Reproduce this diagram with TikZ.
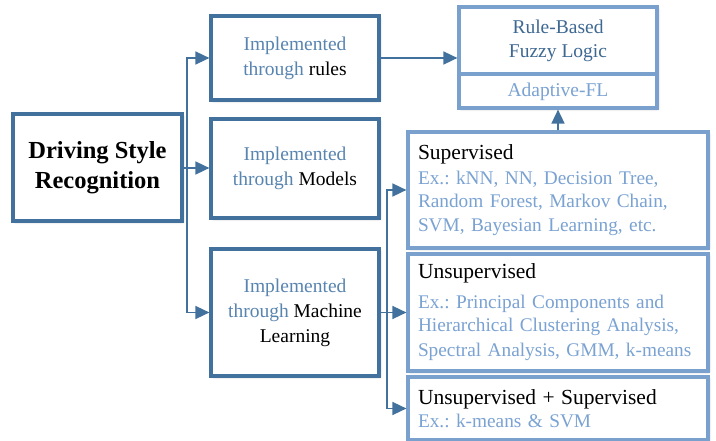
\documentclass[tikz,border=0pt]{standalone}
\usepackage{fontspec}
\setmainfont{Liberation Serif}
\usetikzlibrary{arrows.meta,shadows.blur}
\frenchspacing
\definecolor{dkblue}{RGB}{65,113,156}
\definecolor{ltblue}{RGB}{122,160,206}
\definecolor{midtxt}{RGB}{88,132,176}
\definecolor{rbtxt}{RGB}{62,104,146}
\definecolor{extxt}{RGB}{122,162,210}
\tikzset{
  shad/.style={blur shadow={shadow xshift=1.5pt,shadow yshift=-1.5pt,shadow blur steps=6,shadow opacity=25,shadow blur extra rounding=1pt}},
  leftbox/.style={draw=dkblue,line width=3.2pt,fill=white,shad,align=center,inner sep=0pt,
    font=\fontsize{19.5}{25}\selectfont},
  rightbox/.style={draw=ltblue,line width=3.2pt,fill=white,shad,align=left,inner xsep=10pt,inner ysep=0pt,
    text width=280pt,font=\fontsize{19.3}{23.5}\selectfont,text=extxt},
  conn/.style={draw=dkblue,line width=1.6pt},
  arr/.style={conn,-{Triangle[length=14pt,width=13pt]}},
}
\begin{document}
\begin{tikzpicture}[x=1pt,y=-1pt]
\useasboundingbox (0,0) rectangle (716,441);
% left column
\node[leftbox,minimum width=169pt,minimum height=107pt,font=\fontsize{24.5}{30}\selectfont\bfseries] (dsr) at (97.5,167.5) {Driving Style\\Recognition};
\node[leftbox,minimum width=168pt,minimum height=84pt] (rules) at (295,58) {\textcolor{midtxt}{Implemented}\\\textcolor{midtxt}{through} rules};
\node[leftbox,minimum width=168pt,minimum height=99pt] (models) at (295,168.5) {\textcolor{midtxt}{Implemented}\\\textcolor{midtxt}{through} Models};
\node[leftbox,minimum width=168pt,minimum height=127pt] (ml) at (295,312.5) {\textcolor{midtxt}{Implemented}\\\textcolor{midtxt}{through} Machine\\Learning};
% rule based box
\node[draw=ltblue,line width=3.2pt,fill=white,shad,minimum width=198pt,minimum height=101pt,inner sep=0pt] (rb) at (558,57.5) {};
\draw[ltblue,line width=3.2pt] (rb.west |- 0,74) -- (rb.east |- 0,74);
\node[align=center,text=rbtxt,font=\fontsize{19.5}{24}\selectfont] (rbt) at (558,41) {Rule-Based\\Fuzzy Logic};
\node[text=extxt,font=\fontsize{19.5}{24}\selectfont] (afl) at (558,91.5) {Adaptive-FL};
% right boxes
\node[rightbox,minimum height=116pt] (sup) at (558,190) {{\color{black}\fontsize{21.5}{25}\selectfont Supervised}\\[1.5pt]Ex.: kNN, NN, Decision Tree,\\Random Forest, Markov Chain,\\SVM, Bayesian Learning, etc.};
\node[rightbox,minimum height=117pt] (unsup) at (558,312.5) {{\color{black}\fontsize{21.5}{25}\selectfont Unsupervised}\\[6pt]Ex.: Principal Components and\\Hierarchical Clustering Analysis,\\[1.5pt]Spectral Analysis, GMM, k-means};
\node[rightbox,minimum height=63pt] (uss) at (558,408.5) {{\color{black}\fontsize{21.5}{25}\selectfont Unsupervised + Supervised}\\[0pt]Ex.: k-means \& SVM};
% connectors
\coordinate (j1) at (187,168);
\coordinate (j2) at (387,312.5);
\draw[arr] (dsr.east |- j1) -- (models.west |- j1);
\draw[arr] (j1) |- (rules.west);
\draw[arr] (j1) |- (ml.west);
\draw[arr] (rules.east) -- (rules.east -| rb.west);
\draw[conn] (ml.east) -- (j2);
\draw[arr] (j2) |- (sup.west);
\draw[arr] (j2) -- (unsup.west);
\draw[arr] (j2) |- (uss.west);
\draw[arr] (sup.north) -- (rb.south);
\end{tikzpicture}
\end{document}
